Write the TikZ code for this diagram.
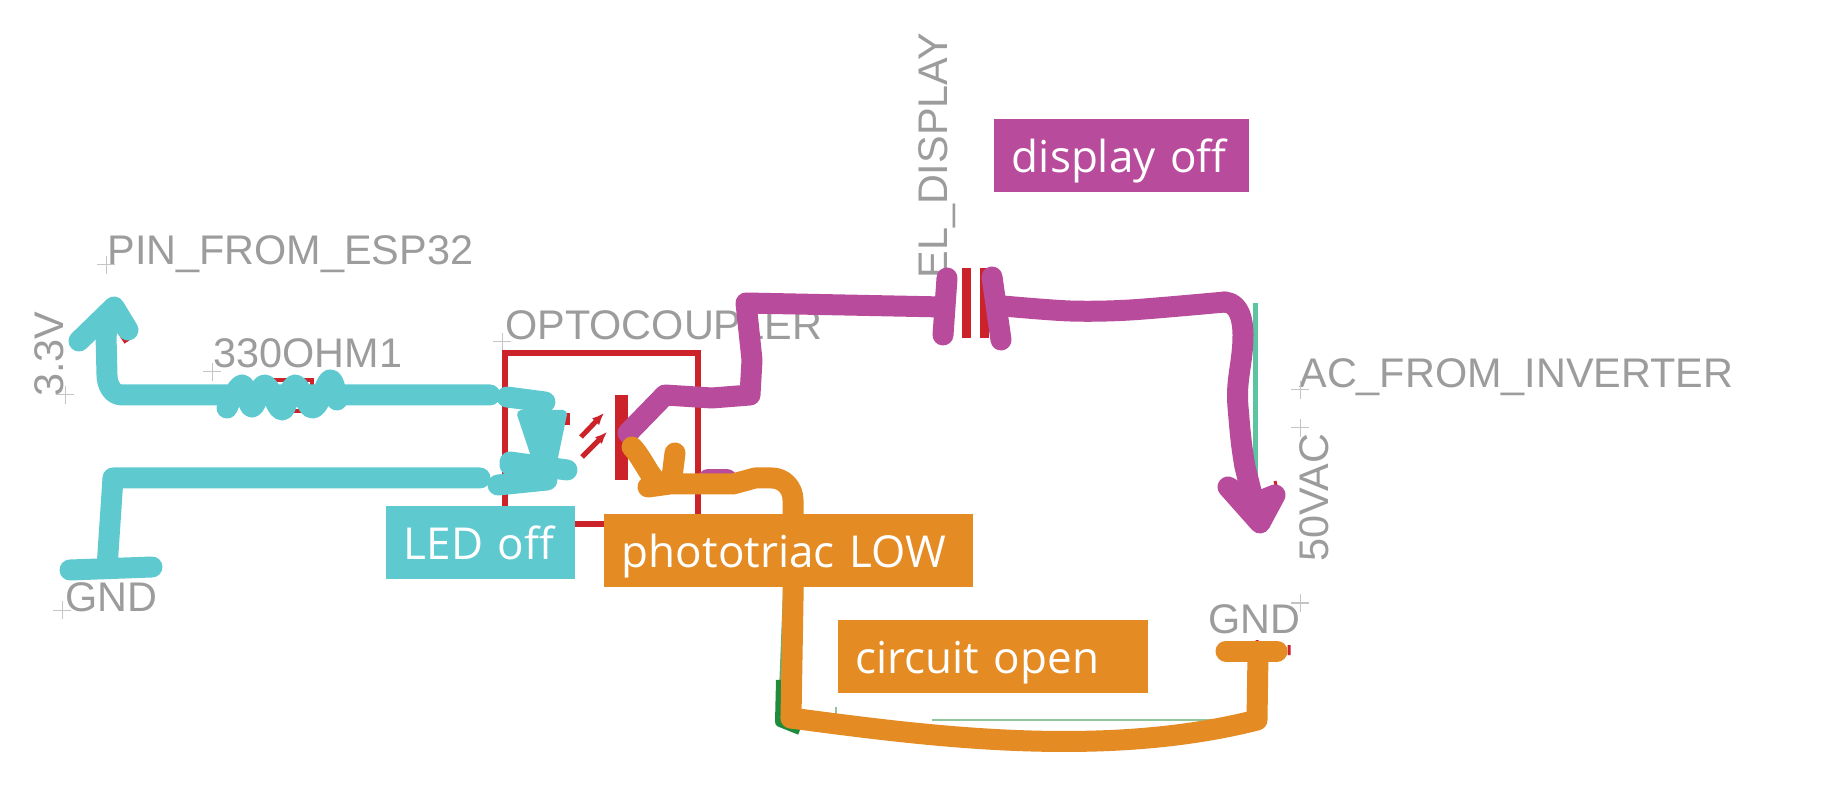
\documentclass[tikz,border=0pt]{standalone}
\usepackage{fontspec}
\setmainfont{Liberation Sans}
\newfontfamily\tagfont{Open Sans}
\usepackage{xcolor}
\usetikzlibrary{arrows.meta,positioning,fit}
\definecolor{wirecyan}{HTML}{5FC9D0}
\definecolor{wiremag}{HTML}{B84B9B}
\definecolor{wireorg}{HTML}{E48B24}
\definecolor{schred}{HTML}{CC2229}
\definecolor{schgray}{HTML}{9C9C9C}
\definecolor{schteal}{HTML}{5CC4A0}
\definecolor{schgreen}{HTML}{1E8C3C}
\begin{document}
\begin{tikzpicture}[
x=0.5pt,y=-0.5pt,
label/.style={inner sep=0pt,anchor=base west,text=schgray,font=\fontsize{20.7}{20.7}\selectfont},
tag/.style={anchor=north west,inner ysep=0pt,inner xsep=8.5pt,align=left,text=white,
  font=\tagfont\fontsize{22}{22}\selectfont,text height=18pt,text depth=1.5pt,minimum height=36.5pt},
cross/.style={draw=schgray!60,line width=0.5pt},
sch/.style={draw=schred,line width=3pt},
stroke/.style={line width=10.5pt,line cap=round,line join=round},
cyanw/.style={stroke,draw=wirecyan},
magw/.style={stroke,draw=wiremag},
orgw/.style={stroke,draw=wireorg}]
\useasboundingbox (0,0) rectangle (1829,795);
% schematic underneath
\node[label] (pin) at (107,265) {PIN\_FROM\_ESP32};
\node[label,rotate=90] (vcc) at (63,397) {3.3V};
\node[label] (res) at (213,368) {330OHM1};
\node[label] (gndl) at (65,611) {GND};
\node[label] (opto) at (505,340) {OPTOCOUPLER};
\node[label,rotate=90] (el) at (947,279) {EL\_DISPLAY};
\node[label] (acin) at (1299,388) {AC\_FROM\_INVERTER};
\node[label,rotate=90] (vac) at (1328,562) {50VAC};
\node[label] (gndr) at (1208,633) {GND};
\foreach \p in {(106,265),(65,395),(212,372),(62,610),(502,342),(1300,390),(1300,428),(1300,603)}
  \draw[cross] \p +(-9,0) -- +(9,0) \p +(0,-9) -- +(0,9);
\draw[sch] (505,353) rectangle (698,524);
\draw[sch,line width=2pt] (272,380) rectangle (312,411);
\draw[schred,line width=3pt] (103,305) -- (127,342);
\fill[schred] (615,395) rectangle (628,480);
\fill[schred] (563,413) rectangle (570,425);
\draw[schred,line width=2.5pt,-{Latex[length=6pt,width=5pt]}] (581,437) -- (604,413);
\draw[schred,line width=2.5pt,-{Latex[length=6pt,width=5pt]}] (582,457) -- (607,432);
\fill[schred] (962,268) rectangle (971,338);
\fill[schred] (980,268) rectangle (989,338);
\draw[schred,line width=1.5pt] (1257,640) -- (1257,652) (1275,481) -- (1277,490) (1289,645) -- (1289,655);
\draw[schteal,line width=2.5pt] (1255,303) -- (1255,480);
\draw[schgreen!50,line width=1pt] (932,720) -- (1215,720) (836,707) -- (836,715);
\draw[schgreen!70,line width=2pt] (785,590) -- (781,690);
\draw[schgreen,line width=5pt,line join=round] (781,680) -- (780,722) -- (800,730);
% cyan wires
\draw[cyanw] (79,341) -- (114,307) -- (128,330);
\draw[cyanw] (113,310) -- (106,335) -- (107,375) to[out=-90,in=180] (122,395) -- (490,395);
\draw[cyanw] plot[smooth,tension=0.7] coordinates {(227,408) (242,385) (252,407) (265,385) (282,410) (295,385) (313,408) (330,380) (337,400)};
\draw[cyanw] (507,397) -- (545,402);
\draw[wirecyan,fill=wirecyan,line width=4pt,line join=round] (521,414) -- (563,414) -- (553,462) -- (537,462) -- cycle;
\draw[cyanw] (510,462) -- (567,470);
\draw[cyanw] (498,485) -- (547,480) (510,465) -- (545,475);
\draw[cyanw] (70,570) -- (152,567) (107,568) -- (113,478) -- (480,478);
% magenta wires
\draw[magw] (708,480) -- (727,480);
\draw[magw] (628,433) -- (665,395) -- (712,398) -- (750,395) -- (752,360) -- (746,303) -- (943,307);
\draw[magw] (947,278) -- (943,335) (992,277) -- (1001,340);
\draw[magw] plot[smooth,tension=0.5] coordinates {(1003,306) (1070,311) (1130,310) (1225,302)};
\draw[magw] (1225,302) to[out=-5,in=90] (1243,335) to[out=-90,in=95] (1238,407) to[out=-85,in=100] (1245,467) -- (1257,515);
\draw[magw,fill=wiremag] (1228,487) -- (1260,523) -- (1275,495) -- (1255,503) -- cycle;
% orange wires
\draw[orgw] (632,447) to[out=-45,in=-130] (668,480);
\draw[orgw] (675,453) -- (672,477);
\draw[orgw] (648,487) -- (670,484) -- (733,484) -- (755,478) -- (772,478) to[out=0,in=90] (793,500) -- (793,600) -- (791,718);
\draw[orgw] (791,718) .. controls (920,735) and (1100,760) .. (1257,720) -- (1258,652);
\draw[orgw] (1226,651) -- (1277,651);
% labels on top
\node[tag,fill=wiremag,minimum width=127.5pt,text width=110pt] (off) at (994,119) {display off};
\node[tag,fill=wirecyan,minimum width=94.5pt,text width=77pt] (led) at (386,506) {LED off};
\node[tag,fill=wireorg,minimum width=184.5pt,text width=167pt] (triac) at (604,514) {phototriac LOW};
\node[tag,fill=wireorg,minimum width=155pt,text width=138pt] (open) at (838,620) {circuit open};
\end{tikzpicture}
\end{document}
